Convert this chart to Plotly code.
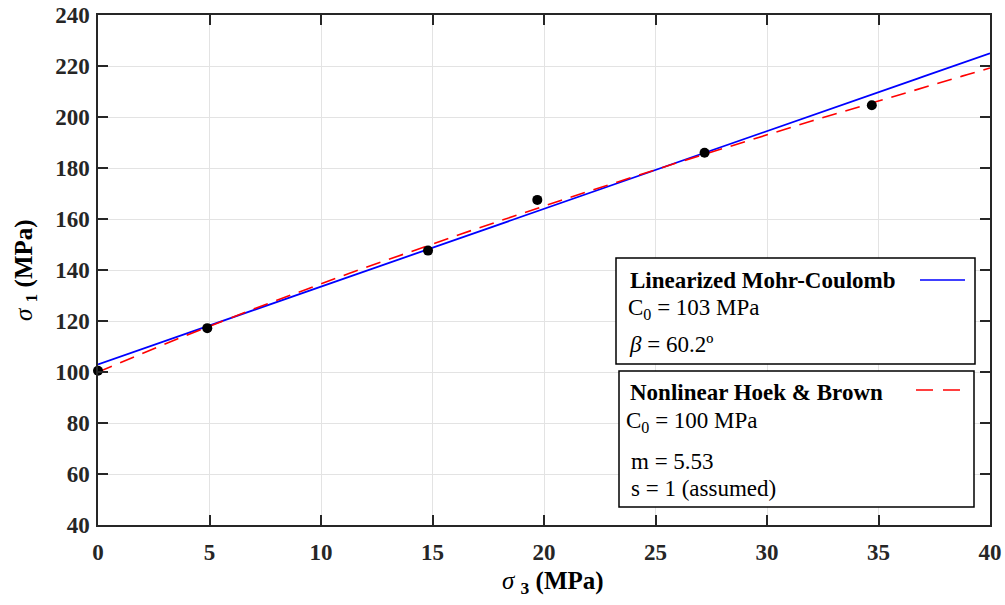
import numpy as np
import plotly.graph_objects as go

# Triaxial test results (confining stress vs. peak axial stress), MPa
sigma3_test = [0.0, 4.9, 14.8, 19.7, 27.2, 34.7]
sigma1_test = [100.5, 117.2, 147.6, 167.5, 186.0, 204.6]

# Linearized Mohr-Coulomb parameters
mc_C0 = 103.0      # MPa
mc_beta = 60.2     # degrees

# Nonlinear Hoek & Brown parameters
hb_C0 = 100.0      # MPa
hb_m = 5.53
hb_s = 1.0

x_ticks = [0, 5, 10, 15, 20, 25, 30, 35, 40]
y_ticks = [40, 60, 80, 100, 120, 140, 160, 180, 200, 220, 240]

# Failure envelopes evaluated across the confining-stress range
s3 = np.linspace(0, 40, 161)
s1_mc = mc_C0 + np.tan(np.radians(mc_beta)) ** 2 * s3
s1_hb = s3 + np.sqrt(hb_m * hb_C0 * s3 + hb_s * hb_C0 ** 2)

SERIF = "Liberation Serif, Times New Roman, serif"
DARK = "#262626"

fig = go.Figure()
fig.add_trace(go.Scatter(x=s3, y=s1_mc, mode="lines",
                         line=dict(color="#0000ff", width=1.8), hoverinfo="skip"))
fig.add_trace(go.Scatter(x=s3, y=s1_hb, mode="lines",
                         line=dict(color="#ff0000", width=1.6, dash="15px,9px"),
                         hoverinfo="skip"))
fig.add_trace(go.Scatter(x=sigma3_test, y=sigma1_test, mode="markers",
                         marker=dict(color="black", size=10), cliponaxis=False))

axis_common = dict(
    showline=True, linecolor=DARK, linewidth=1.5, mirror="ticks",
    ticks="inside", ticklen=10, tickwidth=1.5, tickcolor=DARK,
    showgrid=True, gridcolor="#e3e3e3", gridwidth=1.2, zeroline=False,
    automargin=False,
    tickfont=dict(family=SERIF, size=23, color=DARK, weight="bold"),
)

fig.update_layout(
    width=1005, height=605,
    margin=dict(l=98, r=15, t=15, b=80),
    paper_bgcolor="white", plot_bgcolor="white",
    showlegend=False,
    font=dict(family=SERIF, color="black"),
    xaxis=dict(range=[0, 40], tickvals=x_ticks, ticklabelstandoff=6, **axis_common),
    yaxis=dict(range=[40, 240], tickvals=y_ticks, ticklabelstandoff=2, **axis_common),
)


def px_x(px):
    return (px - 98) / 892.0


def px_y(py):
    return (525 - py) / 510.0


annotations = []


def add_text(text, px, py, size=23, anchor="left", angle=0):
    annotations.append(dict(
        text=text, xref="paper", yref="paper", x=px_x(px), y=px_y(py),
        xanchor=anchor, yanchor="middle", showarrow=False, textangle=angle,
        font=dict(family=SERIF, size=size, color="black")))


# Axis titles
add_text("<i>σ</i> <sub><b>3</b></sub> <b>(MPa)</b>", 553, 582, size=25, anchor="center")
annotations.append(dict(
    text="<i>σ</i> <sub><b>1</b></sub> <b>(MPa)</b>", xref="paper", yref="paper",
    x=px_x(25), y=px_y(270), xanchor="center", yanchor="middle",
    showarrow=False, textangle=-90,
    font=dict(family=SERIF, size=25, color="black")))

# Model parameter boxes
add_text("<b>Linearized Mohr-Coulomb</b>", 628, 281)
add_text("C<sub>0</sub> = 103 MPa", 626, 309)
add_text("<i>β</i> = 60.2º", 627, 345)

add_text("<b>Nonlinear Hoek & Brown</b>", 628, 392)
add_text("C<sub>0</sub> = 100 MPa", 624, 422)
add_text("m = 5.53", 629, 461)
add_text("s = 1 (assumed)", 629, 488)

fig.update_layout(annotations=annotations)

shapes = [
    dict(type="rect", xref="paper", yref="paper",
         x0=px_x(616), x1=px_x(975), y0=px_y(364), y1=px_y(258),
         line=dict(color="black", width=1.5), fillcolor="white", layer="above"),
    dict(type="rect", xref="paper", yref="paper",
         x0=px_x(619), x1=px_x(974), y0=px_y(507), y1=px_y(371),
         line=dict(color="black", width=1.5), fillcolor="white", layer="above"),
    dict(type="line", xref="paper", yref="paper",
         x0=px_x(920), x1=px_x(965), y0=px_y(280), y1=px_y(280),
         line=dict(color="#0000ff", width=1.6), layer="above"),
    dict(type="line", xref="paper", yref="paper",
         x0=px_x(916), x1=px_x(960), y0=px_y(390), y1=px_y(390),
         line=dict(color="#ff0000", width=1.6, dash="17px,10px"), layer="above"),
]
fig.update_layout(shapes=shapes)

fig.write_html("out.html")
